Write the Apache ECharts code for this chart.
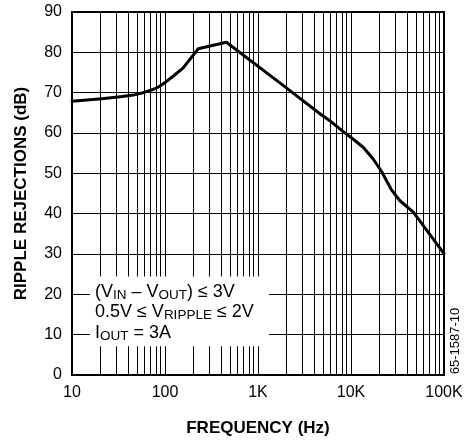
<!DOCTYPE html>
<html>
<head>
<meta charset="utf-8">
<script src="https://cdn.jsdelivr.net/npm/echarts@6/dist/echarts.min.js"></script>
<style>
html,body{margin:0;padding:0;background:#fff;}
#c{width:471px;height:442px;}
</style>
</head>
<body>
<div id="c"></div>
<script>
// Data
var freqHz = [10, 20.8, 33.3, 45.6, 56.2, 76.9, 87.7, 100, 124, 156, 228, 457, 1820, 2350, 4750, 6040, 8000, 10000, 13600, 17400, 21400, 26900, 33600, 46800, 100000];
var rejectionDb = [67.9, 68.5, 69.0, 69.4, 69.9, 70.9, 71.6, 72.5, 74.2, 76.1, 80.9, 82.5, 72.0, 70.0, 64.6, 62.9, 60.6, 58.9, 56.4, 53.5, 50.4, 46.1, 43.2, 40.4, 30.1];
var yTicks = [0, 10, 20, 30, 40, 50, 60, 70, 80, 90];
var xDecades = [10, 100, 1000, 10000, 100000];
var xTickLabels = ['10', '100', '1K', '10K', '100K'];
// annotation box extent in data units
var boxFreq = [15.6, 1310];
var boxDb = [7.1, 24.4];
var noteId = '65-1587-10';

var FONT = '"Liberation Sans", Arial, Helvetica, sans-serif';

var minorLines = [];
for (var d = 0; d < xDecades.length - 1; d++) {
  for (var k = 2; k <= 9; k++) minorLines.push({ xAxis: xDecades[d] * k });
}

var chart = echarts.init(document.getElementById('c'), null, { renderer: 'canvas' });
var option = {
  animation: false,
  backgroundColor: '#fff',
  grid: { left: 72, right: 27, top: 12, bottom: 65, show: true, borderColor: '#000', borderWidth: 2, backgroundColor: 'transparent' },
  xAxis: {
    type: 'log', logBase: 10, min: 10, max: 100000,
    name: 'FREQUENCY (Hz)', nameLocation: 'middle', nameGap: 45,
    nameTextStyle: { fontFamily: FONT, fontWeight: 'bold', fontSize: 17, color: '#000' },
    axisLine: { show: true, lineStyle: { color: '#000', width: 2 } },
    axisTick: { show: false },
    axisLabel: {
      fontFamily: FONT, fontSize: 16, color: '#000', margin: 10,
      formatter: function (v) {
        var i = xDecades.indexOf(Math.round(v));
        return i >= 0 ? xTickLabels[i] : '';
      }
    },
    splitLine: { show: true, lineStyle: { color: '#000', width: 1 } }
  },
  yAxis: {
    type: 'value', min: 0, max: 90, interval: 10,
    name: 'RIPPLE REJECTIONS (dB)', nameLocation: 'middle', nameGap: 42,
    nameTextStyle: { fontFamily: FONT, fontWeight: 'bold', fontSize: 17, color: '#000' },
    axisLine: { show: true, lineStyle: { color: '#000', width: 2 } },
    axisTick: { show: false },
    axisLabel: {
      fontFamily: FONT, fontSize: 16, color: '#000', margin: 10,
      formatter: function (v) { return yTicks.indexOf(v) >= 0 ? String(v) : ''; }
    },
    splitLine: { show: true, lineStyle: { color: '#000', width: 1 } }
  },
  series: [
    {
      type: 'line', z: 1, data: [], silent: true,
      markLine: {
        silent: true, symbol: ['none', 'none'], animation: false,
        label: { show: false },
        lineStyle: { type: 'solid', color: '#000', width: 1 },
        emphasis: { disabled: true },
        data: minorLines
      }
    },
    {
      type: 'line', z: 5,
      data: freqHz.map(function (f, i) { return [f, rejectionDb[i]]; }),
      showSymbol: false, smooth: false,
      lineStyle: { color: '#000', width: 3, join: 'round', cap: 'round' }
    }
  ]
};
chart.setOption(option);

var p1 = chart.convertToPixel({ gridIndex: 0 }, [boxFreq[0], boxDb[1]]);
var p2 = chart.convertToPixel({ gridIndex: 0 }, [boxFreq[1], boxDb[0]]);
var gridRight = chart.convertToPixel({ gridIndex: 0 }, [100000, 0]);
var cy = (p1[1] + p2[1]) / 2;

var rich = {
  m: { fontFamily: FONT, fontSize: 18, color: '#000', lineHeight: 20.5, verticalAlign: 'middle' },
  s: { fontFamily: FONT, fontSize: 13.5, color: '#000', lineHeight: 14, verticalAlign: 'bottom' }
};
chart.setOption({
  graphic: [
    {
      type: 'rect', z: 100, silent: true,
      shape: { x: p1[0], y: p1[1], width: p2[0] - p1[0], height: p2[1] - p1[1] },
      style: { fill: '#fff' }
    },
    {
      type: 'text', z: 101, silent: true,
      x: p1[0] + 5, y: cy + 1,
      style: {
        text: '{m|(V}{s|IN}{m| – V}{s|OUT}{m|) ≤ 3V}\n{m|0.5V ≤ V}{s|RIPPLE}{m| ≤ 2V}\n{m|I}{s|OUT}{m| = 3A}',
        rich: rich, verticalAlign: 'middle', align: 'left'
      }
    },
    {
      type: 'text', z: 101, silent: true,
      x: gridRight[0] + 11, y: gridRight[1] - 34, rotation: Math.PI / 2,
      style: { text: noteId, fontFamily: FONT, fontSize: 13, fill: '#000', align: 'center', verticalAlign: 'middle' }
    }
  ]
});
</script>
</body>
</html>
